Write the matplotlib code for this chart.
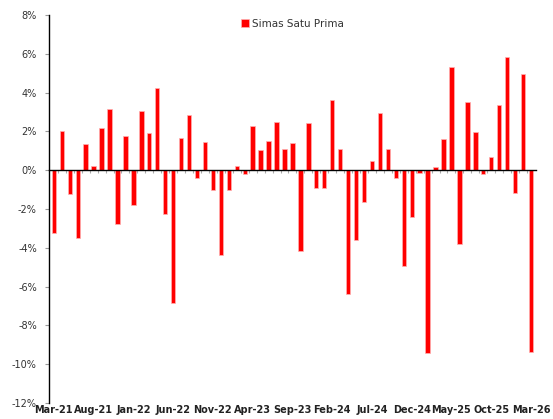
import numpy as np
import matplotlib
matplotlib.use('Agg')
import matplotlib.pyplot as plt
from matplotlib.ticker import FuncFormatter

months = ['Mar-21', 'Apr-21', 'May-21', 'Jun-21', 'Jul-21', 'Aug-21', 'Sep-21', 'Oct-21', 'Nov-21', 'Dec-21',
          'Jan-22', 'Feb-22', 'Mar-22', 'Apr-22', 'May-22', 'Jun-22', 'Jul-22', 'Aug-22', 'Sep-22', 'Oct-22',
          'Nov-22', 'Dec-22', 'Jan-23', 'Feb-23', 'Mar-23', 'Apr-23', 'May-23', 'Jun-23', 'Jul-23', 'Aug-23',
          'Sep-23', 'Oct-23', 'Nov-23', 'Dec-23', 'Jan-24', 'Feb-24', 'Mar-24', 'Apr-24', 'May-24', 'Jun-24',
          'Jul-24', 'Aug-24', 'Sep-24', 'Oct-24', 'Nov-24', 'Dec-24', 'Jan-25', 'Feb-25', 'Mar-25', 'Apr-25',
          'May-25', 'Jun-25', 'Jul-25', 'Aug-25', 'Sep-25', 'Oct-25', 'Nov-25', 'Dec-25', 'Jan-26', 'Feb-26',
          'Mar-26']

returns = [-3.25, 2.02, -1.23, -3.50, 1.33, 0.21, 2.15, 3.16, -2.77, 1.76,
           -1.81, 3.04, 1.91, 4.22, -2.27, -6.82, 1.64, 2.87, -0.38, 1.45,
           -1.01, -4.36, -1.04, 0.24, -0.21, 2.27, 1.06, 1.49, 2.46, 1.11,
           1.40, -4.19, 2.41, -0.94, -0.94, 3.61, 1.09, -6.38, -3.62, -1.64,
           0.48, 2.96, 1.11, -0.41, -4.92, -2.41, -0.15, -9.44, 0.17, 1.62,
           5.30, -3.79, 3.54, 1.95, -0.19, 0.68, 3.37, 5.86, -1.18, 4.94,
           -9.35]

series_name = 'Simas Satu Prima'
y_ticks = [8, 6, 4, 2, 0, -2, -4, -6, -8, -10, -12]

x = np.arange(len(months))

fig = plt.figure(figsize=(5.53, 4.19), dpi=100)
ax = fig.add_axes([0.0892, 0.0382, 0.8795, 0.926])

ax.bar(x, returns, width=0.55, color='#ff0000', edgecolor='#ffb0b0', linewidth=0.5,
       label=series_name, zorder=2)

ax.set_xlim(-0.57, len(months) - 0.41)
ax.set_ylim(-12, 8)
ax.set_yticks(y_ticks)
ax.yaxis.set_major_formatter(FuncFormatter(lambda v, p: f'{v:.0f}%'))
ax.tick_params(axis='y', length=3, width=0.8, color='#999999', labelsize=7,
               labelcolor='#333333', pad=6)

# x axis line at zero with small ticks between months
ax.spines['bottom'].set_position(('data', 0))
ax.spines['bottom'].set_linewidth(1.0)
ax.spines['bottom'].set_zorder(3)
ax.spines['top'].set_visible(False)
ax.spines['right'].set_visible(False)
ax.spines['left'].set_linewidth(1.0)
ax.set_xticks(x[:-1] + 0.5, minor=True)
ax.set_xticks([])
ax.tick_params(axis='x', which='minor', length=2.5, width=0.8, color='#aaaaaa')

# month labels along the bottom
sec = ax.secondary_xaxis('bottom')
sec.set_xticks(x[::5])
sec.set_xticklabels(months[::5], fontsize=7, fontweight='bold', color='#222222')
sec.spines['bottom'].set_visible(False)
sec.tick_params(length=0, pad=1.5)

leg = ax.legend(loc='upper center', bbox_to_anchor=(0.5, 1.015), frameon=False,
                fontsize=7.5, handlelength=0.7, handleheight=0.7, handletextpad=0.3)
for t in leg.get_texts():
    t.set_color('#333333')

fig.savefig('out.png', dpi=100)
